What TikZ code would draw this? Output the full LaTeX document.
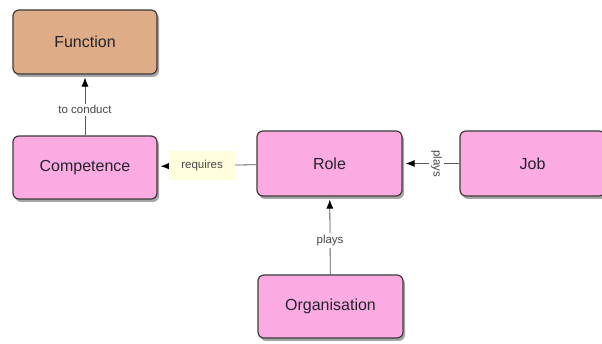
\documentclass[tikz,border=0pt]{standalone}
\usepackage{fontspec}
\setmainfont{Liberation Sans}
\usetikzlibrary{shadows,arrows.meta}
\definecolor{pinkfill}{RGB}{252,170,226}
\definecolor{tanfill}{RGB}{222,172,134}
\definecolor{boxline}{RGB}{60,60,60}
\definecolor{txt}{RGB}{35,35,45}
\definecolor{lbltxt}{RGB}{70,70,70}
\definecolor{reqfill}{RGB}{255,255,222}
\tikzset{
  entity/.style={draw=boxline, line width=1.2pt, rounded corners=6pt, minimum width=144pt, minimum height=64pt,
    font=\fontsize{16}{18}\selectfont, text=txt, inner sep=0pt,
    drop shadow={shadow xshift=2pt, shadow yshift=-3pt, opacity=0.35, fill=black}},
  pinkbox/.style={entity, fill=pinkfill},
  tanbox/.style={entity, fill=tanfill},
  conn/.style={draw=gray!70!black, line width=0.8pt, -{Latex[length=9pt,width=7pt,color=black,fill=black]}, shorten >=3pt},
  lbl/.style={fill=white, text=lbltxt, font=\fontsize{11.5}{13}\selectfont, inner sep=2pt},
}
\begin{document}
\begin{tikzpicture}[x=1pt,y=-1pt]
\useasboundingbox (0,0) rectangle (602,344);
\clip (0,0) rectangle (602,344);
\fill[white] (0,0) rectangle (602,344);
\node[tanbox] (func) at (85,42) {Function};
\node[pinkbox, minimum height=63pt] (comp) at (85,167.5) {Competence};
\node[pinkbox, minimum width=145pt, minimum height=65pt] (role) at (329.5,163.5) {Role};
\node[pinkbox, minimum width=145pt, minimum height=65pt] (job) at (532.5,163.5) {Job};
\node[pinkbox, minimum width=145pt, minimum height=63pt] (org) at (330.5,306.5) {Organisation};
\draw[conn] (comp) -- node[lbl, pos=0.42] (l1) {to conduct} (func);
\draw[conn] (role) -- node[lbl, pos=0.55, fill=reqfill, minimum width=66pt, minimum height=29pt] (l2) {requires} (comp);
\draw[conn] (job) -- node[lbl, pos=0.4, rotate=-90] (l3) {plays} (role);
\draw[conn] (org) -- node[lbl, pos=0.44] (l4) {plays} (role);
\end{tikzpicture}
\end{document}
